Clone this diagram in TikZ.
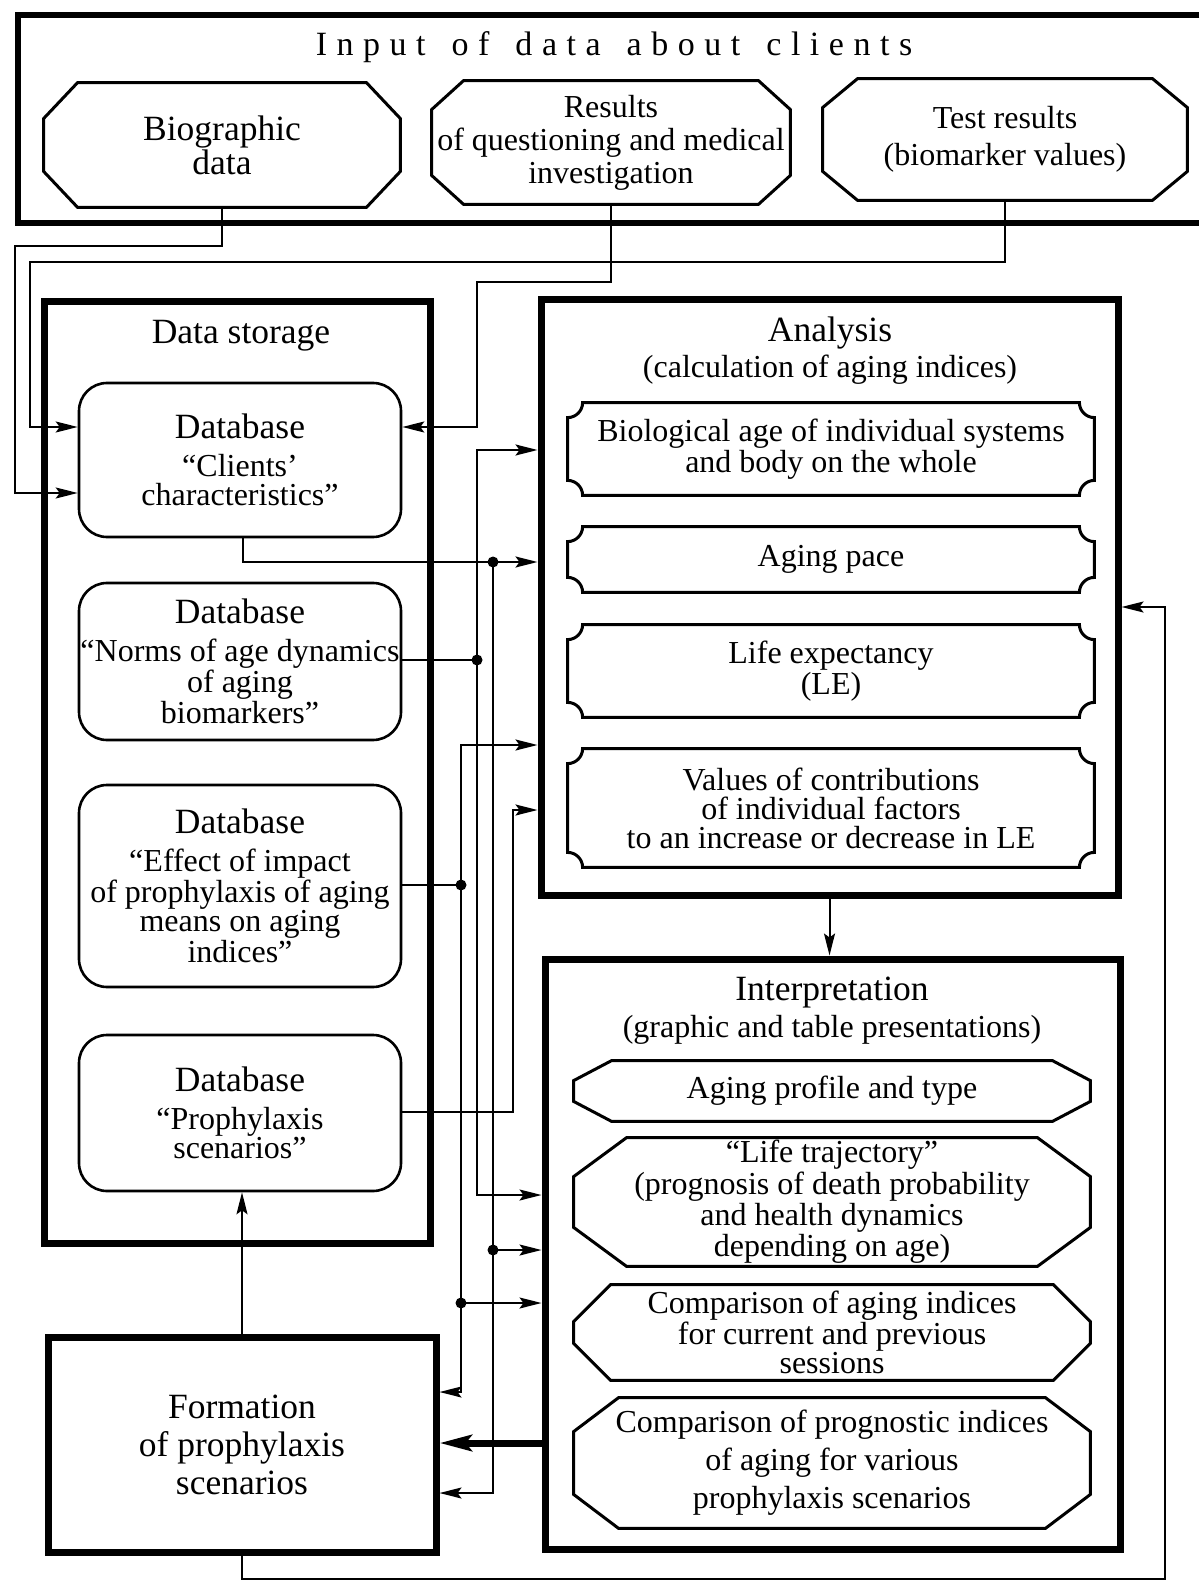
\documentclass[tikz,border=0pt]{standalone}
\usepackage{fontspec}
\setmainfont{Liberation Serif}
\newfontfamily\spacedfont[LetterSpace=28]{Liberation Serif}
\usetikzlibrary{arrows.meta,calc}
\newcommand\octo[3]{\draw[shapeline] ([xshift=#2]#1.north west) -- ([xshift=-#2]#1.north east) -- ([yshift=-#3]#1.north east) -- ([yshift=#3]#1.south east) -- ([xshift=-#2]#1.south east) -- ([xshift=#2]#1.south west) -- ([yshift=#3]#1.south west) -- ([yshift=-#3]#1.north west) -- cycle;}
\newcommand\ticket[1]{\draw[shapeline] ([xshift=7.5pt]#1.north west) -- ([xshift=-7.5pt]#1.north east) arc[start angle=180,end angle=270,radius=7.5pt] -- ([yshift=7.5pt]#1.south east) arc[start angle=90,end angle=180,radius=7.5pt] -- ([xshift=7.5pt]#1.south west) arc[start angle=0,end angle=90,radius=7.5pt] -- ([yshift=-7.5pt]#1.north west) arc[start angle=270,end angle=360,radius=7.5pt] -- cycle;}
\newcommand\bigfs{\fontsize{17.75}{17}\selectfont}
\begin{document}
\begin{tikzpicture}[x=0.5pt,y=-0.5pt,
  font=\fontsize{16}{14.5}\selectfont,
  frame/.style={draw, line width=3.5pt, inner sep=0pt},
  db/.style={draw, line width=1.3pt, rounded corners=14pt, inner sep=0pt, align=center},
  hold/.style={inner sep=0pt, align=center},
  shapeline/.style={line width=1.5pt, line join=miter},
  conn/.style={line width=1pt},
  arr/.style={conn, -{Stealth[length=11pt,width=5.5pt,inset=2pt]}},
  thickarr/.style={line width=3.5pt, -{Stealth[length=16pt,width=8pt,inset=3pt]}},
  dot/.style={circle, fill, inner sep=0pt, minimum size=5.5pt}]
\useasboundingbox (0,0) rectangle (1199,1582);

% ---------- input frame ----------
\node[inner sep=0pt, minimum width=590.5pt, minimum height=104pt] (input) at (608.5,119) {};
\draw[line width=3pt] (input.north east) -- (input.north west) -- (input.south west) -- (input.south east);
\node[hold, font=\fontsize{17}{17}\spacedfont] (title) at (614,47) {Input\hspace{4pt} of\hspace{4pt} data\hspace{4pt} about\hspace{4pt} clients};

\node[hold, minimum width=178pt, minimum height=62pt, font=\bigfs] (bio) at (222,145) {Biographic\\data};
\node[hold, minimum width=179pt, minimum height=61.5pt, font=\fontsize{16}{16.5}\selectfont] (res) at (611,142.5) {Results\\of questioning and medical\\investigation};
\node[hold, minimum width=182pt, minimum height=60.5pt, font=\fontsize{16}{18.5}\selectfont] (test) at (1005,139.5) {Test results\\(biomarker values)};
\octo{bio}{17pt}{18pt}
\octo{res}{16pt}{14.5pt}
\octo{test}{17.5pt}{14.5pt}

% ---------- data storage ----------
\node[frame, minimum width=193pt, minimum height=470.5pt] (storage) at (237,772.5) {};
\node[hold, font=\bigfs] (dslabel) at (241,336) {Data storage};
\node[db, minimum width=161pt, minimum height=77pt] (clients) at (240,460) {{\bigfs Database}\\[4.5pt]“Clients’\\characteristics”};
\node[db, minimum width=161pt, minimum height=78.5pt] (norms) at (240,661.5) {{\bigfs Database}\\[4.5pt]“Norms of age dynamics\\of aging\\biomarkers”};
\node[db, minimum width=161pt, minimum height=101pt] (effect) at (240,886) {{\bigfs Database}\\[4.5pt]“Effect of impact\\of prophylaxis of aging\\means on aging\\indices”};
\node[db, minimum width=161pt, minimum height=78pt] (proph) at (240,1113) {{\bigfs Database}\\[4.5pt]“Prophylaxis\\scenarios”};

% ---------- analysis ----------
\node[frame, minimum width=288.5pt, minimum height=297.5pt] (analysis) at (829.5,597.5) {};
\node[hold, font=\bigfs] (antitle) at (830,333) {Analysis};
\node[hold] (ansub) at (830,370) {(calculation of aging indices)};
\node[hold, minimum width=263pt, minimum height=46pt] (bioage) at (831,449) {Biological age of individual systems\\and body on the whole};
\node[hold, minimum width=263pt, minimum height=32.5pt] (pace) at (831,559.5) {Aging pace};
\node[hold, minimum width=263pt, minimum height=46pt] (le) at (831,671) {Life expectancy\\(LE)};
\node[hold, minimum width=263pt, minimum height=59pt] (contrib) at (831,808) {Values of contributions\\of individual factors\\to an increase or decrease in LE};
\ticket{bioage}
\ticket{pace}
\ticket{le}
\ticket{contrib}

% ---------- interpretation ----------
\node[frame, minimum width=287.5pt, minimum height=295pt] (interp) at (832.5,1254) {};
\node[hold, font=\bigfs] (intitle) at (832,993) {Interpretation};
\node[hold] (insub) at (832,1030) {(graphic and table presentations)};
\node[hold, minimum width=258pt, minimum height=30pt] (profile) at (832,1091) {Aging profile and type};
\node[hold, minimum width=258pt, minimum height=64pt] (traj) at (832,1202) {“Life trajectory”\\(prognosis of death probability\\and health dynamics\\depending on age)};
\node[hold, minimum width=258pt, minimum height=47.5pt] (comp1) at (832,1332.5) {Comparison of aging indices\\for current and previous\\sessions};
\node[hold, minimum width=258pt, minimum height=65pt, font=\fontsize{16}{19}\selectfont] (comp2) at (832,1463) {Comparison of prognostic indices\\of aging for various\\prophylaxis scenarios};
\octo{profile}{19pt}{10pt}
\octo{traj}{26.5pt}{19.5pt}
\octo{comp1}{18.5pt}{18.5pt}
\octo{comp2}{22.5pt}{17pt}

% ---------- formation ----------
\node[frame, minimum width=194pt, minimum height=107.5pt, align=center, font=\fontsize{17.75}{19}\selectfont] (formation) at (242,1444.5) {Formation\\of prophylaxis\\scenarios};

% ---------- connectors ----------
\draw[arr] (bio.south) -- (bio.south |- 0,246) -| (15,493) -- (clients.west |- 0,493);
\draw[arr] (test.south) -- (test.south |- 0,262) -| (30,427) -- (clients.west |- 0,427);
\draw[arr] (res.south) -- (res.south |- 0,282) -| (477,427) -- (clients.east |- 0,427);

\node[dot] (d1) at (477,660) {};
\draw[conn] (norms.east |- d1) -- (d1.center);
\draw[arr] (d1.center) |- (analysis.west |- 0,450);
\draw[arr] (d1.center) |- (interp.west |- 0,1195);

\node[dot] (d2) at (493,562) {};
\node[dot] (d3) at (493,1250) {};
\draw[arr] ([xshift=1.5pt]clients.south) |- (analysis.west |- d2);
\draw[arr] (d2.center) |- (formation.east |- 0,1493);
\draw[arr] (d3.center) -- (interp.west |- d3);

\node[dot] (d4) at (461,885) {};
\node[dot] (d5) at (461,1303) {};
\draw[conn] (effect.east |- d4) -- (d4.center);
\draw[arr] (d4.center) |- (analysis.west |- 0,745);
\draw[arr] (d4.center) |- (formation.east |- 0,1392);
\draw[arr] (d5.center) -- (interp.west |- d5);

\draw[arr] (proph.east |- 0,1112) -| (513,810) -- (analysis.west |- 0,810);

\draw[thickarr] (interp.west |- 0,1443) -- (formation.east |- 0,1443);
\draw[arr] (formation.north) -- (formation.north |- proph.south);
\draw[arr] (formation.south) -- (formation.south |- 0,1579) -| (1165,607) -- (analysis.east |- 0,607);
\draw[arr] (analysis.south) -- (analysis.south |- interp.north);
\end{tikzpicture}
\end{document}
